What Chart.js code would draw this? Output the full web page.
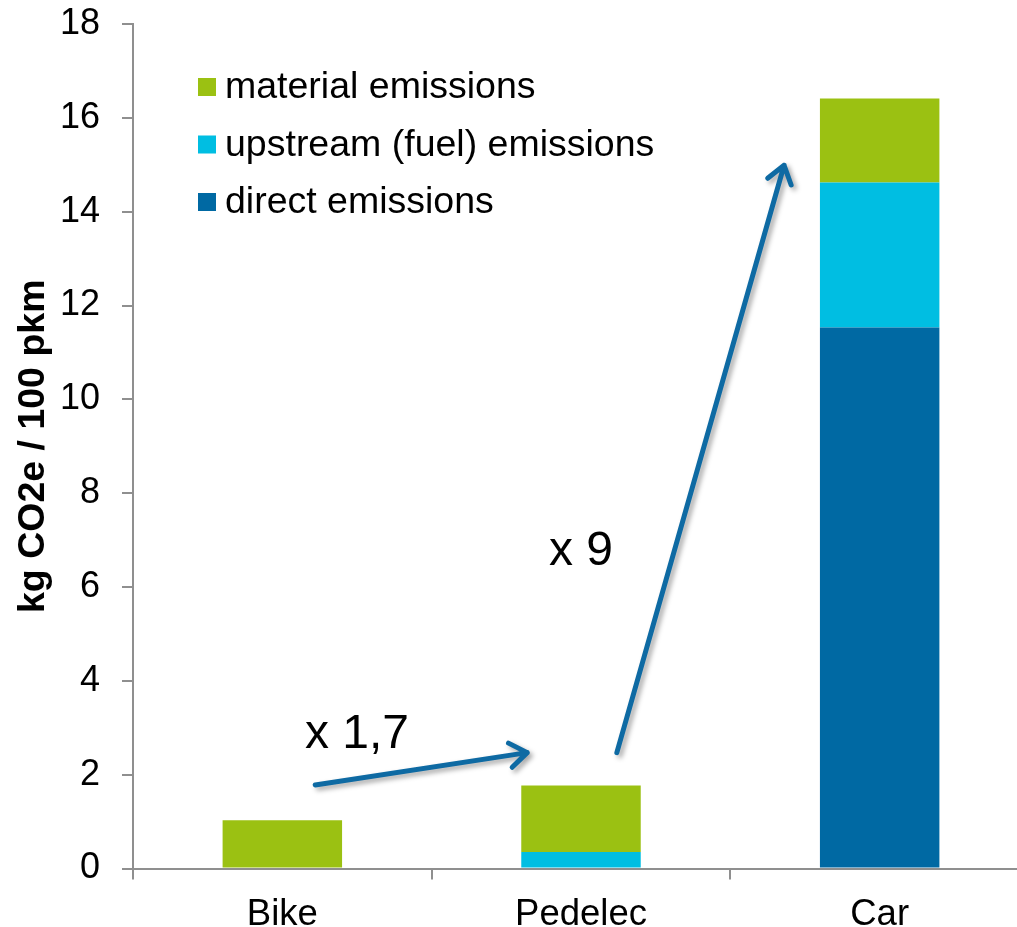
<!DOCTYPE html>
<html>
<head>
<meta charset="utf-8">
<script src="https://cdn.jsdelivr.net/npm/chart.js@4/dist/chart.umd.min.js"></script>
<style>
  html, body { margin: 0; padding: 0; background: #fff; overflow: hidden; }
  #wrap { width: 1030px; height: 927px; }
</style>
</head>
<body>
<div id="wrap"><canvas id="chart" width="1030" height="927"></canvas></div>
<script>
const categories = ['Bike', 'Pedelec', 'Car'];
const directEmissions = [0, 0, 11.53];
const upstreamEmissions = [0, 0.35, 3.09];
const materialEmissions = [1.03, 1.42, 1.79];
const yTicks = [0, 2, 4, 6, 8, 10, 12, 14, 16, 18];

// growth arrows in data space: [x index, value] -> [x index, value]
const arrows = [
  { from: [0.11, 1.78], to: [0.82, 2.47] },
  { from: [1.12, 2.47], to: [1.68, 14.99] }
];
const arrowLabels = [
  { text: 'x 1,7', at: [0.25, 2.85] },
  { text: 'x 9', at: [1.0, 6.75] }
];

const GREEN = '#9BC112';
const CYAN = '#00BEE2';
const BLUE = '#0069A3';
const AXIS = '#8f8f8f';
const FONT = "'Liberation Sans', Arial, sans-serif";

const overlay = {
  id: 'overlay',
  afterDatasetsDraw(chart) {
    const { ctx, scales: { x, y } } = chart;
    const px = (p) => [x.getPixelForValue(p[0]), y.getPixelForValue(p[1])];

    // arrows with a soft shadow
    ctx.save();
    ctx.strokeStyle = '#0E6AA3';
    ctx.lineWidth = 5;
    ctx.lineCap = 'round';
    ctx.lineJoin = 'round';
    ctx.shadowColor = 'rgba(0,0,0,0.35)';
    ctx.shadowBlur = 5;
    ctx.shadowOffsetX = 3;
    ctx.shadowOffsetY = 3;
    arrows.forEach(a => {
      const [x1, y1] = px(a.from);
      const [x2, y2] = px(a.to);
      const ang = Math.atan2(y2 - y1, x2 - x1);
      const head = 21;
      const spread = 0.62;
      ctx.beginPath();
      ctx.moveTo(x1, y1);
      ctx.lineTo(x2, y2);
      ctx.moveTo(x2 - head * Math.cos(ang - spread), y2 - head * Math.sin(ang - spread));
      ctx.lineTo(x2, y2);
      ctx.lineTo(x2 - head * Math.cos(ang + spread), y2 - head * Math.sin(ang + spread));
      ctx.stroke();
    });
    ctx.restore();

    // ratio labels
    ctx.save();
    ctx.fillStyle = '#000';
    ctx.font = '48px ' + FONT;
    ctx.textAlign = 'center';
    ctx.textBaseline = 'middle';
    arrowLabels.forEach(l => {
      const [lx, ly] = px(l.at);
      ctx.fillText(l.text, lx, ly);
    });
    ctx.restore();

    // legend inside the plot, top series first
    ctx.save();
    ctx.font = '37.5px ' + FONT;
    ctx.textBaseline = 'middle';
    ctx.textAlign = 'left';
    const items = chart.data.datasets.slice().reverse();
    items.forEach((ds, i) => {
      const cy = 87 + i * 57.5;
      ctx.fillStyle = ds.backgroundColor;
      ctx.fillRect(198, cy - 9, 18, 18);
      ctx.fillStyle = '#000';
      ctx.fillText(ds.label, 225, cy + 1);
    });
    ctx.restore();
  }
};

new Chart(document.getElementById('chart'), {
  type: 'bar',
  data: {
    labels: categories,
    datasets: [
      { label: 'direct emissions', data: directEmissions, backgroundColor: BLUE },
      { label: 'upstream (fuel) emissions', data: upstreamEmissions, backgroundColor: CYAN },
      { label: 'material emissions', data: materialEmissions, backgroundColor: GREEN }
    ]
  },
  options: {
    responsive: false,
    animation: false,
    layout: { padding: { top: 24, right: 1, left: 0, bottom: 0 } },
    datasets: {
      bar: { barPercentage: 0.4, categoryPercentage: 1.0, borderWidth: 0 }
    },
    plugins: {
      legend: { display: false },
      tooltip: { enabled: false }
    },
    scales: {
      x: {
        stacked: true,
        grid: { display: true, drawOnChartArea: false, drawTicks: true, tickLength: 11, color: AXIS, lineWidth: 2, offset: true },
        border: { display: true, color: AXIS, width: 2 },
        ticks: { color: '#000', font: { family: FONT, size: 36.5 }, padding: 14 },
        afterFit(scale) { scale.height = 58.5; }
      },
      y: {
        stacked: true,
        min: 0,
        max: 18,
        afterBuildTicks(scale) { scale.ticks = yTicks.map(v => ({ value: v })); },
        grid: { display: true, drawOnChartArea: false, drawTicks: true, tickLength: 11, color: AXIS, lineWidth: 2 },
        border: { display: true, color: AXIS, width: 2 },
        ticks: { color: '#000', font: { family: FONT, size: 36 }, padding: 22 },
        title: {
          display: true,
          text: 'kg CO2e / 100 pkm',
          color: '#000',
          font: { family: FONT, size: 37.5, weight: 'bold' },
          padding: { top: 11, bottom: 0 }
        },
        afterFit(scale) {
          scale.width = 133;
          scale.paddingTop = 0;
          scale.paddingBottom = 0;
        }
      }
    }
  },
  plugins: [overlay]
});
</script>
</body>
</html>
